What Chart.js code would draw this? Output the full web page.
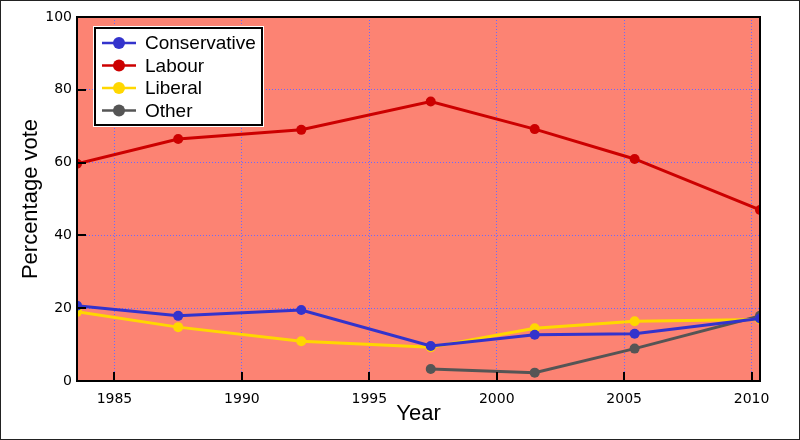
<!doctype html>
<html>
<head>
    <title>Percentage vote by year</title>
    <script src="https://cdn.jsdelivr.net/npm/chart.js@4.4.1/dist/chart.umd.min.js"></script>
    <style>
        body { margin: 0; background: #fff; }
        #wrap {
            width: 800px;
            height: 440px;
            box-sizing: border-box;
            border: 1px solid #222;
        }
    </style>
</head>
<body>
    <div id="wrap"><canvas id="myChart" width="798" height="438"></canvas></div>
    <script>
        var years = [1983.53, 1987.5, 1992.33, 1997.41, 2001.49, 2005.41, 2010.33];
        var conservative = [20.7, 17.9, 19.5, 9.6, 12.7, 13.0, 17.2];
        var labour = [59.7, 66.5, 69.0, 76.8, 69.2, 61.0, 47.0];
        var liberal = [19.0, 14.8, 10.9, 9.3, 14.5, 16.4, 16.9];
        var other = [null, null, null, 3.3, 2.3, 8.9, 17.9];
        var xTicks = [1985, 1990, 1995, 2000, 2005, 2010];
        var yTicks = [0, 20, 40, 60, 80, 100];

        var seriesNames = ['Conservative', 'Labour', 'Liberal', 'Other'];
        var seriesColors = ['#3333cc', '#cc0000', '#ffd700', '#555555'];
        var seriesValues = [conservative, labour, liberal, other];

        var datasets = seriesNames.map(function(name, i) {
            var pts = [];
            years.forEach(function(y, k) {
                if (seriesValues[i][k] !== null) pts.push({x: y, y: seriesValues[i][k]});
            });
            return {
                label: name,
                data: pts,
                borderColor: seriesColors[i],
                backgroundColor: seriesColors[i],
                borderWidth: 3,
                pointRadius: 5,
                pointHoverRadius: 5,
                pointBorderWidth: 0,
                tension: 0,
            };
        });

        // salmon plot area, frame, inward ticks and the boxed legend
        var decor = {
            id: 'decor',
            beforeDraw: function(chart) {
                var a = chart.chartArea, c = chart.ctx;
                c.save();
                c.fillStyle = '#fc8373';
                c.fillRect(a.left, a.top, a.right - a.left, a.bottom - a.top);
                c.restore();
            },
            afterDatasetsDraw: function(chart) {
                var a = chart.chartArea, c = chart.ctx;
                var xs = chart.scales.x, ys = chart.scales.y;
                c.save();
                c.strokeStyle = '#000';
                c.lineWidth = 2;
                c.beginPath();
                xTicks.forEach(function(t) {
                    var px = Math.round(xs.getPixelForValue(t));
                    c.moveTo(px, a.bottom);
                    c.lineTo(px, a.bottom - 9);
                });
                yTicks.forEach(function(t) {
                    var py = Math.round(ys.getPixelForValue(t));
                    c.moveTo(a.left, py);
                    c.lineTo(a.left + 9, py);
                });
                c.stroke();
                c.strokeRect(a.left, a.top, a.right - a.left, a.bottom - a.top);

                // legend
                var lx = 92, ly = 25, lw = 171, lh = 101;
                c.fillStyle = '#fff';
                c.fillRect(lx, ly, lw, lh);
                c.strokeStyle = '#000';
                c.lineWidth = 2;
                c.strokeRect(lx + 2, ly + 2, lw - 4, lh - 4);
                c.font = '19px "Liberation Sans", Arial, sans-serif';
                c.textBaseline = 'middle';
                seriesNames.forEach(function(name, i) {
                    var cy = ly + 17 + i * 22.5;
                    c.strokeStyle = seriesColors[i];
                    c.lineWidth = 2.5;
                    c.beginPath();
                    c.moveTo(lx + 9, cy);
                    c.lineTo(lx + 43, cy);
                    c.stroke();
                    c.fillStyle = seriesColors[i];
                    c.beginPath();
                    c.arc(lx + 26, cy, 6, 0, Math.PI * 2);
                    c.fill();
                    c.fillStyle = '#000';
                    c.fillText(name, lx + 52, cy + 1);
                });
                c.restore();
            }
        };

        var ctx = document.getElementById('myChart').getContext('2d');
        var _chart = new Chart(ctx, {
            type: 'line',
            data: { datasets: datasets },
            options: {
                responsive: false,
                animation: false,
                layout: { padding: { top: 16, right: 39, left: 0, bottom: 0 } },
                plugins: { legend: { display: false }, tooltip: { enabled: false } },
                scales: {
                    x: {
                        type: 'linear',
                        min: 1983.53,
                        max: 2010.33,
                        afterFit: function(s) { s.height = 58; },
                        afterBuildTicks: function(s) { s.ticks = xTicks.map(function(v) { return {value: v}; }); },
                        ticks: {
                            includeBounds: false,
                            padding: 10,
                            color: '#000',
                            font: { family: '"DejaVu Sans", sans-serif', size: 14 },
                            callback: function(v) { return String(v); },
                        },
                        grid: { color: '#6a6aff', drawTicks: false, lineWidth: 1 },
                        border: { display: false, dash: [1, 2] },
                        title: {
                            display: true,
                            text: 'Year',
                            color: '#000',
                            padding: { top: 0, bottom: 12 },
                            font: { family: '"Liberation Sans", Arial, sans-serif', size: 22 },
                        },
                    },
                    y: {
                        min: 0,
                        max: 100,
                        afterFit: function(s) { s.width = 76; },
                        afterBuildTicks: function(s) { s.ticks = yTicks.map(function(v) { return {value: v}; }); },
                        ticks: {
                            padding: 5,
                            color: '#000',
                            font: { family: '"DejaVu Sans", sans-serif', size: 14 },
                        },
                        grid: { color: '#6a6aff', drawTicks: false, lineWidth: 1 },
                        border: { display: false, dash: [1, 2] },
                        title: {
                            display: true,
                            text: 'Percentage vote',
                            color: '#000',
                            padding: { top: 17, bottom: 0 },
                            font: { family: '"Liberation Sans", Arial, sans-serif', size: 22 },
                        },
                    },
                },
            },
            plugins: [decor],
        });
    </script>
</body>
</html>
